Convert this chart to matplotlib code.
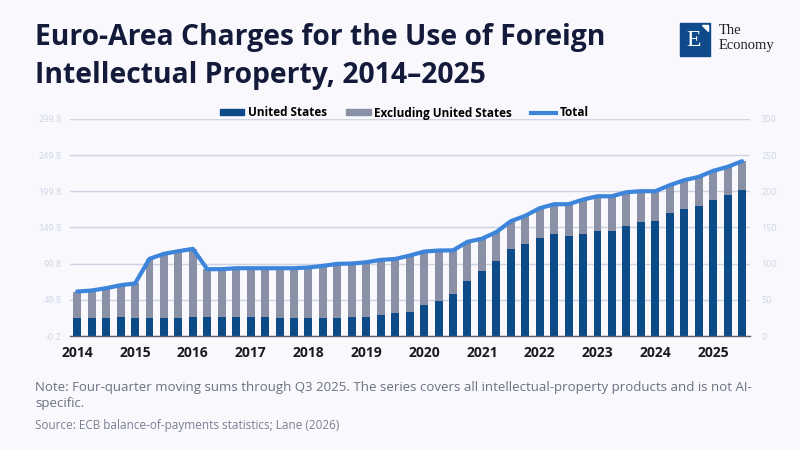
import matplotlib
matplotlib.use("Agg")
import matplotlib.pyplot as plt
from matplotlib.patches import Rectangle, Patch, Polygon
from matplotlib.lines import Line2D
import numpy as np

years = ["2014", "2015", "2016", "2017", "2018", "2019", "2020",
         "2021", "2022", "2023", "2024", "2025"]

us = [24, 24, 24, 26.5, 24, 24, 24, 24, 26.5, 26.5, 26.5, 26.5, 26.5, 26.5, 24, 24,
      24, 24, 24, 26.5, 26.5, 29.5, 31, 33.5, 42, 47.5, 58.5, 76.5, 89, 104, 119.5, 127.6,
      134.6, 141.5, 138.7, 141.5, 145.6, 145.6, 152.5, 158, 159.4, 170.5, 174.7, 180.2,
      188.5, 195.4, 201]

total = [61.3, 62.7, 65.9, 70, 72.4, 106.5, 113.4, 117, 120.3, 92.2, 92.2, 93.5, 93.5, 93.5, 93.5, 93.5,
         94.5, 96.8, 99.5, 100, 101.8, 105, 106.3, 111, 116.5, 118, 118.2, 130, 134.3, 143.5, 158.5,
         166, 176.5, 182, 182, 188.5, 193, 193, 198.6, 200, 200, 208.3, 215.2, 219.8, 228.1, 233.6, 241.5]

excl = [t - u for t, u in zip(total, us)]

BG = "#f8f8fd"
C_US = "#0c4a88"
C_EX = "#8a90a5"
C_TOT = "#3d85da"

fig = plt.figure(figsize=(8, 4.5), dpi=100, facecolor=BG)
ax = fig.add_axes([70/800, (450-336)/450, 680/800, 217/450])
ax.set_facecolor(BG)

x = np.arange(len(us))
ax.bar(x, us, width=0.55, color=C_US, zorder=3)
ax.bar(x, excl, width=0.55, bottom=us, color=C_EX, zorder=3)
ax.plot(x, total, color=C_TOT, lw=3.0, zorder=4, solid_capstyle="round", solid_joinstyle="round")

ax.set_xlim(-0.5, len(us) - 0.45)
ax.set_ylim(-0.2, 299.8)
lt = [-0.2 + 50 * k for k in range(7)]
ax.set_yticks(lt)
ax.set_yticklabels([f"{v:.1f}" for v in lt], fontsize=6.5, color="#cfd6e6", family="Open Sans")
ax.tick_params(axis="y", length=0, pad=6)
ax.grid(axis="y", color="#cdd4e2", lw=1.0, zorder=0)
ax.set_xticks(np.arange(0, len(us), 4))
ax.set_xticklabels(years, fontsize=10, fontweight="bold", color="#1a1a1a", family="Open Sans")
ax.tick_params(axis="x", length=0, pad=7)
for s in ["top", "right", "left"]:
    ax.spines[s].set_visible(False)
ax.spines["bottom"].set_color("#5a5f6e")
ax.spines["bottom"].set_linewidth(1.0)
ax.spines["bottom"].set_zorder(5)

ax2 = ax.twinx()
ax2.set_ylim(0, 300)
ax2.set_yticks(range(0, 301, 50))
ax2.set_yticklabels([str(v) for v in range(0, 301, 50)], fontsize=6.5, color="#cfd6e6", family="Open Sans")
ax2.tick_params(axis="y", length=0, pad=8)
for s in ["top", "right", "left", "bottom"]:
    ax2.spines[s].set_visible(False)

handles = [Patch(color=C_US), Patch(color=C_EX), Line2D([0], [0], color=C_TOT, lw=3)]
labels = ["United States", "Excluding United States", "Total"]
fig.legend(handles, labels, loc="center", bbox_to_anchor=(404/800, (450-113)/450), ncol=3,
           frameon=False, prop={"family": "Open Sans", "weight": "bold", "size": 8.5},
           handlelength=2.1, handleheight=0.45, columnspacing=1.6, handletextpad=0.3)

fig.text(35/800, 1 - 38/450, "Euro-Area Charges for the Use of Foreign", fontsize=20.3,
         fontweight="bold", color="#141a3a", family="Open Sans", va="center")
fig.text(35/800, 1 - 75/450, "Intellectual Property, 2014\u20132025", fontsize=20.3,
         fontweight="bold", color="#141a3a", family="Open Sans", va="center")

fig.text(35/800, 1 - 387/450, "Note: Four-quarter moving sums through Q3 2025. The series covers all intellectual-property products and is not AI-",
         fontsize=9.5, color="#6b7183", family="Open Sans", va="center")
fig.text(35/800, 1 - 404/450, "specific.", fontsize=9.5, color="#6b7183", family="Open Sans", va="center")
fig.text(35/800, 1 - 425/450, "Source: ECB balance-of-payments statistics; Lane (2026)",
         fontsize=8.5, color="#7a8092", family="Open Sans", va="center")

# logo
fig.patches.append(Rectangle((680/800, 1 - 56/450), 30/800, 33/450, transform=fig.transFigure,
                             color="#0f4a8a", zorder=5))
fig.patches.append(Polygon([(702/800, 1 - 25/450), (708/800, 1 - 25/450), (708/800, 1 - 31/450)],
                           closed=True, transform=fig.transFigure, color="white", zorder=6))
fig.text(694/800, 1 - 41/450, "E", fontsize=17, color="white", family="Liberation Serif",
         ha="center", va="center", zorder=6)
fig.text(719/800, 1 - 30/450, "The", fontsize=10.5, color="#222222", family="Liberation Serif",
         va="center")
fig.text(719/800, 1 - 45/450, "Economy", fontsize=10.5, color="#222222", family="Liberation Serif",
         va="center")

fig.savefig("out.png", dpi=100, facecolor=BG)
